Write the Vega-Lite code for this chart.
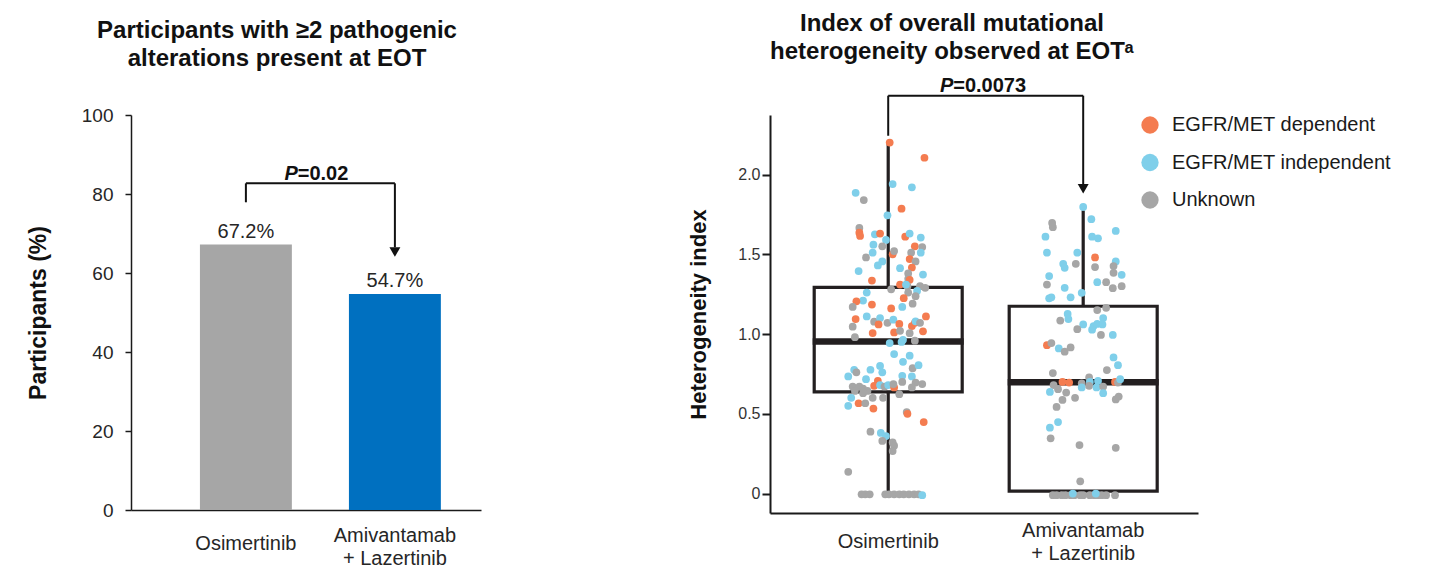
{
  "$schema": "https://vega.github.io/schema/vega-lite/v6.json",
  "background": "white",
  "padding": {"left": 27, "top": 11, "right": 5, "bottom": 5},
  "bounds": "flush",
  "spacing": 289,
  "resolve": {"scale": {"color": "independent", "xOffset": "independent"}, "legend": {"color": "independent"}},
  "config": {
    "font": "Liberation Sans",
    "view": {"stroke": null},
    "axis": {"labelFont": "Liberation Sans", "titleFont": "Liberation Sans", "domainColor": "#1a1a1a", "tickColor": "#1a1a1a", "labelColor": "#262626", "titleColor": "#111111", "grid": false},
    "legend": {"labelFont": "Liberation Sans"},
    "text": {"font": "Liberation Sans"},
    "title": {"font": "Liberation Sans", "fontSize": 24, "fontWeight": "bold", "color": "#111111", "lineHeight": 28.5}
  },
  "datasets": {
    "bars": [
      {"arm": "Osimertinib", "pct": 67.2, "label": "67.2%"},
      {"arm": "Amivantamab + Lazertinib", "pct": 54.7, "label": "54.7%"}
    ],
    "lvert": [
      {"arm": "Osimertinib", "y": 77.9, "y2": 82.7},
      {"arm": "Amivantamab + Lazertinib", "y": 66.5, "y2": 82.7}
    ],
    "lhor": [
      {"arm": "Osimertinib", "arm2": "Amivantamab + Lazertinib", "y": 82.7}
    ],
    "larrow": [
      {"arm": "Amivantamab + Lazertinib", "y": 65.3}
    ],
    "lp": [
      {"arm": "Osimertinib", "y": 83.47}
    ],
    "stats": [
      {"arm": "Osimertinib", "lo": 0, "q1": 0.637, "med": 0.953, "q3": 1.293, "hi": 2.21},
      {"arm": "Amivantamab + Lazertinib", "lo": 0.015, "q1": 0.015, "med": 0.697, "q3": 1.174, "hi": 1.775}
    ],
    "rvert": [
      {"arm": "Osimertinib", "y": 2.243, "y2": 2.494},
      {"arm": "Amivantamab + Lazertinib", "y": 1.93, "y2": 2.494}
    ],
    "rhor": [
      {"arm": "Osimertinib", "arm2": "Amivantamab + Lazertinib", "y": 2.494}
    ],
    "rarrow": [
      {"arm": "Amivantamab + Lazertinib", "y": 1.91}
    ],
    "rp": [
      {"arm": "Osimertinib", "y": 2.515}
    ],
    "points": [
      {"arm": "Osimertinib", "type": "EGFR/MET dependent", "jit": 0.02, "h": 2.2},
      {"arm": "Osimertinib", "type": "EGFR/MET dependent", "jit": 0.49, "h": 2.105},
      {"arm": "Osimertinib", "type": "EGFR/MET independent", "jit": -0.44, "h": 1.885},
      {"arm": "Osimertinib", "type": "Unknown", "jit": -0.33, "h": 1.84},
      {"arm": "Osimertinib", "type": "EGFR/MET independent", "jit": 0.06, "h": 1.94},
      {"arm": "Osimertinib", "type": "EGFR/MET independent", "jit": 0.32, "h": 1.92},
      {"arm": "Osimertinib", "type": "EGFR/MET dependent", "jit": 0.18, "h": 1.786},
      {"arm": "Osimertinib", "type": "EGFR/MET independent", "jit": -0.01, "h": 1.744},
      {"arm": "Osimertinib", "type": "Unknown", "jit": -0.39, "h": 1.665},
      {"arm": "Osimertinib", "type": "EGFR/MET dependent", "jit": -0.39, "h": 1.635},
      {"arm": "Osimertinib", "type": "EGFR/MET dependent", "jit": -0.38, "h": 1.615},
      {"arm": "Osimertinib", "type": "EGFR/MET independent", "jit": -0.18, "h": 1.625},
      {"arm": "Osimertinib", "type": "EGFR/MET dependent", "jit": -0.11, "h": 1.63},
      {"arm": "Osimertinib", "type": "EGFR/MET independent", "jit": -0.03, "h": 1.59},
      {"arm": "Osimertinib", "type": "EGFR/MET dependent", "jit": 0.23, "h": 1.61},
      {"arm": "Osimertinib", "type": "EGFR/MET independent", "jit": 0.29, "h": 1.63},
      {"arm": "Osimertinib", "type": "EGFR/MET independent", "jit": 0.44, "h": 1.605},
      {"arm": "Osimertinib", "type": "EGFR/MET independent", "jit": -0.2, "h": 1.56},
      {"arm": "Osimertinib", "type": "Unknown", "jit": -0.08, "h": 1.55},
      {"arm": "Osimertinib", "type": "EGFR/MET dependent", "jit": 0.36, "h": 1.55},
      {"arm": "Osimertinib", "type": "Unknown", "jit": 0.46, "h": 1.545},
      {"arm": "Osimertinib", "type": "EGFR/MET independent", "jit": -0.21, "h": 1.51},
      {"arm": "Osimertinib", "type": "Unknown", "jit": -0.3, "h": 1.48},
      {"arm": "Osimertinib", "type": "EGFR/MET dependent", "jit": 0.06, "h": 1.5},
      {"arm": "Osimertinib", "type": "Unknown", "jit": 0.08, "h": 1.52},
      {"arm": "Osimertinib", "type": "Unknown", "jit": 0.31, "h": 1.51},
      {"arm": "Osimertinib", "type": "EGFR/MET independent", "jit": 0.44, "h": 1.51},
      {"arm": "Osimertinib", "type": "EGFR/MET dependent", "jit": 0.29, "h": 1.47},
      {"arm": "Osimertinib", "type": "Unknown", "jit": 0.37, "h": 1.455},
      {"arm": "Osimertinib", "type": "EGFR/MET independent", "jit": -0.08, "h": 1.455},
      {"arm": "Osimertinib", "type": "EGFR/MET independent", "jit": -0.14, "h": 1.43},
      {"arm": "Osimertinib", "type": "EGFR/MET dependent", "jit": 0.32, "h": 1.417},
      {"arm": "Osimertinib", "type": "EGFR/MET independent", "jit": 0.16, "h": 1.413},
      {"arm": "Osimertinib", "type": "Unknown", "jit": 0.27, "h": 1.38},
      {"arm": "Osimertinib", "type": "EGFR/MET independent", "jit": -0.4, "h": 1.395},
      {"arm": "Osimertinib", "type": "EGFR/MET independent", "jit": 0.47, "h": 1.373},
      {"arm": "Osimertinib", "type": "Unknown", "jit": 0.27, "h": 1.346},
      {"arm": "Osimertinib", "type": "EGFR/MET dependent", "jit": 0.29, "h": 1.34},
      {"arm": "Osimertinib", "type": "EGFR/MET dependent", "jit": -0.22, "h": 1.335},
      {"arm": "Osimertinib", "type": "EGFR/MET dependent", "jit": 0.16, "h": 1.31},
      {"arm": "Osimertinib", "type": "Unknown", "jit": 0.04, "h": 1.28},
      {"arm": "Osimertinib", "type": "Unknown", "jit": 0.26, "h": 1.3},
      {"arm": "Osimertinib", "type": "Unknown", "jit": 0.43, "h": 1.3},
      {"arm": "Osimertinib", "type": "Unknown", "jit": 0.5, "h": 1.29},
      {"arm": "Osimertinib", "type": "EGFR/MET independent", "jit": 0.39, "h": 1.27},
      {"arm": "Osimertinib", "type": "EGFR/MET independent", "jit": 0.24, "h": 1.31},
      {"arm": "Osimertinib", "type": "EGFR/MET independent", "jit": -0.29, "h": 1.26},
      {"arm": "Osimertinib", "type": "Unknown", "jit": 0.27, "h": 1.26},
      {"arm": "Osimertinib", "type": "EGFR/MET dependent", "jit": 0.21, "h": 1.225},
      {"arm": "Osimertinib", "type": "Unknown", "jit": 0.37, "h": 1.237},
      {"arm": "Osimertinib", "type": "EGFR/MET independent", "jit": -0.34, "h": 1.21},
      {"arm": "Osimertinib", "type": "EGFR/MET dependent", "jit": -0.43, "h": 1.205},
      {"arm": "Osimertinib", "type": "EGFR/MET dependent", "jit": -0.22, "h": 1.185},
      {"arm": "Osimertinib", "type": "Unknown", "jit": -0.48, "h": 1.17},
      {"arm": "Osimertinib", "type": "Unknown", "jit": 0.33, "h": 1.19},
      {"arm": "Osimertinib", "type": "EGFR/MET independent", "jit": 0.19, "h": 1.17},
      {"arm": "Osimertinib", "type": "EGFR/MET dependent", "jit": 0.04, "h": 1.16},
      {"arm": "Osimertinib", "type": "EGFR/MET dependent", "jit": -0.44, "h": 1.094},
      {"arm": "Osimertinib", "type": "EGFR/MET independent", "jit": -0.29, "h": 1.11},
      {"arm": "Osimertinib", "type": "Unknown", "jit": -0.19, "h": 1.077},
      {"arm": "Osimertinib", "type": "EGFR/MET independent", "jit": -0.11, "h": 1.1},
      {"arm": "Osimertinib", "type": "EGFR/MET dependent", "jit": -0.13, "h": 1.06},
      {"arm": "Osimertinib", "type": "Unknown", "jit": -0.01, "h": 1.07},
      {"arm": "Osimertinib", "type": "EGFR/MET independent", "jit": 0.07, "h": 1.09},
      {"arm": "Osimertinib", "type": "EGFR/MET dependent", "jit": 0.15, "h": 1.063},
      {"arm": "Osimertinib", "type": "EGFR/MET dependent", "jit": 0.32, "h": 1.05},
      {"arm": "Osimertinib", "type": "EGFR/MET dependent", "jit": 0.36, "h": 1.07},
      {"arm": "Osimertinib", "type": "EGFR/MET independent", "jit": 0.37, "h": 1.08},
      {"arm": "Osimertinib", "type": "Unknown", "jit": 0.43, "h": 1.07},
      {"arm": "Osimertinib", "type": "EGFR/MET dependent", "jit": 0.51, "h": 1.11},
      {"arm": "Osimertinib", "type": "Unknown", "jit": -0.48, "h": 1.046},
      {"arm": "Osimertinib", "type": "EGFR/MET dependent", "jit": -0.21, "h": 1.006},
      {"arm": "Osimertinib", "type": "EGFR/MET dependent", "jit": 0.08, "h": 1.01},
      {"arm": "Osimertinib", "type": "Unknown", "jit": 0.16, "h": 1.02},
      {"arm": "Osimertinib", "type": "Unknown", "jit": 0.29, "h": 1.005},
      {"arm": "Osimertinib", "type": "EGFR/MET dependent", "jit": 0.47, "h": 1.017},
      {"arm": "Osimertinib", "type": "Unknown", "jit": -0.45, "h": 0.98},
      {"arm": "Osimertinib", "type": "EGFR/MET independent", "jit": 0.02, "h": 0.943},
      {"arm": "Osimertinib", "type": "EGFR/MET independent", "jit": 0.18, "h": 0.95},
      {"arm": "Osimertinib", "type": "EGFR/MET independent", "jit": 0.2, "h": 0.964},
      {"arm": "Osimertinib", "type": "Unknown", "jit": 0.36, "h": 0.958},
      {"arm": "Osimertinib", "type": "EGFR/MET independent", "jit": 0.08, "h": 0.874},
      {"arm": "Osimertinib", "type": "EGFR/MET independent", "jit": 0.2, "h": 0.826},
      {"arm": "Osimertinib", "type": "EGFR/MET independent", "jit": 0.29, "h": 0.864},
      {"arm": "Osimertinib", "type": "Unknown", "jit": 0.33, "h": 0.786},
      {"arm": "Osimertinib", "type": "EGFR/MET independent", "jit": 0.41, "h": 0.805},
      {"arm": "Osimertinib", "type": "EGFR/MET independent", "jit": -0.46, "h": 0.776},
      {"arm": "Osimertinib", "type": "Unknown", "jit": -0.43, "h": 0.76},
      {"arm": "Osimertinib", "type": "EGFR/MET independent", "jit": -0.24, "h": 0.776},
      {"arm": "Osimertinib", "type": "EGFR/MET independent", "jit": -0.11, "h": 0.8},
      {"arm": "Osimertinib", "type": "EGFR/MET independent", "jit": -0.08, "h": 0.76},
      {"arm": "Osimertinib", "type": "EGFR/MET independent", "jit": -0.54, "h": 0.734},
      {"arm": "Osimertinib", "type": "EGFR/MET independent", "jit": -0.3, "h": 0.717},
      {"arm": "Osimertinib", "type": "EGFR/MET dependent", "jit": -0.14, "h": 0.706},
      {"arm": "Osimertinib", "type": "EGFR/MET independent", "jit": 0.19, "h": 0.738},
      {"arm": "Osimertinib", "type": "EGFR/MET independent", "jit": 0.32, "h": 0.734},
      {"arm": "Osimertinib", "type": "Unknown", "jit": 0.19, "h": 0.7},
      {"arm": "Osimertinib", "type": "Unknown", "jit": 0.37, "h": 0.696},
      {"arm": "Osimertinib", "type": "Unknown", "jit": 0.46, "h": 0.686},
      {"arm": "Osimertinib", "type": "Unknown", "jit": -0.48, "h": 0.671},
      {"arm": "Osimertinib", "type": "Unknown", "jit": -0.39, "h": 0.671},
      {"arm": "Osimertinib", "type": "Unknown", "jit": -0.34, "h": 0.658},
      {"arm": "Osimertinib", "type": "EGFR/MET dependent", "jit": -0.19, "h": 0.675},
      {"arm": "Osimertinib", "type": "EGFR/MET independent", "jit": -0.11, "h": 0.68},
      {"arm": "Osimertinib", "type": "Unknown", "jit": -0.05, "h": 0.671},
      {"arm": "Osimertinib", "type": "EGFR/MET independent", "jit": 0.0, "h": 0.68},
      {"arm": "Osimertinib", "type": "EGFR/MET dependent", "jit": 0.08, "h": 0.665},
      {"arm": "Osimertinib", "type": "Unknown", "jit": 0.07, "h": 0.686},
      {"arm": "Osimertinib", "type": "Unknown", "jit": 0.32, "h": 0.665},
      {"arm": "Osimertinib", "type": "Unknown", "jit": -0.45, "h": 0.643},
      {"arm": "Osimertinib", "type": "Unknown", "jit": -0.28, "h": 0.643},
      {"arm": "Osimertinib", "type": "Unknown", "jit": -0.21, "h": 0.6},
      {"arm": "Osimertinib", "type": "Unknown", "jit": -0.07, "h": 0.6},
      {"arm": "Osimertinib", "type": "Unknown", "jit": 0.15, "h": 0.623},
      {"arm": "Osimertinib", "type": "Unknown", "jit": -0.34, "h": 0.629},
      {"arm": "Osimertinib", "type": "EGFR/MET independent", "jit": -0.5, "h": 0.6},
      {"arm": "Osimertinib", "type": "EGFR/MET independent", "jit": -0.54, "h": 0.55},
      {"arm": "Osimertinib", "type": "EGFR/MET dependent", "jit": -0.4, "h": 0.566},
      {"arm": "Osimertinib", "type": "Unknown", "jit": -0.31, "h": 0.566},
      {"arm": "Osimertinib", "type": "EGFR/MET dependent", "jit": -0.2, "h": 0.533},
      {"arm": "Osimertinib", "type": "Unknown", "jit": 0.25, "h": 0.511},
      {"arm": "Osimertinib", "type": "EGFR/MET dependent", "jit": 0.26, "h": 0.5},
      {"arm": "Osimertinib", "type": "EGFR/MET dependent", "jit": 0.48, "h": 0.448},
      {"arm": "Osimertinib", "type": "Unknown", "jit": -0.24, "h": 0.388},
      {"arm": "Osimertinib", "type": "EGFR/MET independent", "jit": -0.1, "h": 0.38},
      {"arm": "Osimertinib", "type": "EGFR/MET independent", "jit": -0.03, "h": 0.36},
      {"arm": "Osimertinib", "type": "Unknown", "jit": -0.08, "h": 0.33},
      {"arm": "Osimertinib", "type": "Unknown", "jit": 0.06, "h": 0.32},
      {"arm": "Osimertinib", "type": "Unknown", "jit": 0.08, "h": 0.3},
      {"arm": "Osimertinib", "type": "Unknown", "jit": 0.06, "h": 0.266},
      {"arm": "Osimertinib", "type": "Unknown", "jit": -0.54, "h": 0.136},
      {"arm": "Osimertinib", "type": "Unknown", "jit": -0.36, "h": -0.005},
      {"arm": "Osimertinib", "type": "Unknown", "jit": -0.31, "h": -0.005},
      {"arm": "Osimertinib", "type": "Unknown", "jit": -0.25, "h": -0.005},
      {"arm": "Osimertinib", "type": "Unknown", "jit": -0.04, "h": -0.005},
      {"arm": "Osimertinib", "type": "Unknown", "jit": 0.01, "h": -0.005},
      {"arm": "Osimertinib", "type": "Unknown", "jit": 0.08, "h": -0.005},
      {"arm": "Osimertinib", "type": "Unknown", "jit": 0.15, "h": -0.005},
      {"arm": "Osimertinib", "type": "Unknown", "jit": 0.21, "h": -0.005},
      {"arm": "Osimertinib", "type": "Unknown", "jit": 0.28, "h": -0.005},
      {"arm": "Osimertinib", "type": "Unknown", "jit": 0.35, "h": -0.005},
      {"arm": "Osimertinib", "type": "Unknown", "jit": 0.41, "h": -0.005},
      {"arm": "Osimertinib", "type": "EGFR/MET independent", "jit": 0.46, "h": -0.01},
      {"arm": "Amivantamab + Lazertinib", "type": "EGFR/MET independent", "jit": 0.0, "h": 1.797},
      {"arm": "Amivantamab + Lazertinib", "type": "Unknown", "jit": -0.42, "h": 1.696},
      {"arm": "Amivantamab + Lazertinib", "type": "Unknown", "jit": -0.41, "h": 1.67},
      {"arm": "Amivantamab + Lazertinib", "type": "EGFR/MET independent", "jit": 0.11, "h": 1.72},
      {"arm": "Amivantamab + Lazertinib", "type": "EGFR/MET independent", "jit": 0.44, "h": 1.646},
      {"arm": "Amivantamab + Lazertinib", "type": "EGFR/MET independent", "jit": -0.51, "h": 1.61},
      {"arm": "Amivantamab + Lazertinib", "type": "EGFR/MET independent", "jit": 0.12, "h": 1.61},
      {"arm": "Amivantamab + Lazertinib", "type": "EGFR/MET independent", "jit": 0.2, "h": 1.6},
      {"arm": "Amivantamab + Lazertinib", "type": "EGFR/MET independent", "jit": -0.49, "h": 1.51},
      {"arm": "Amivantamab + Lazertinib", "type": "EGFR/MET independent", "jit": -0.08, "h": 1.51},
      {"arm": "Amivantamab + Lazertinib", "type": "EGFR/MET dependent", "jit": 0.16, "h": 1.48},
      {"arm": "Amivantamab + Lazertinib", "type": "EGFR/MET independent", "jit": 0.44, "h": 1.455},
      {"arm": "Amivantamab + Lazertinib", "type": "EGFR/MET independent", "jit": -0.27, "h": 1.44},
      {"arm": "Amivantamab + Lazertinib", "type": "Unknown", "jit": -0.1, "h": 1.44},
      {"arm": "Amivantamab + Lazertinib", "type": "EGFR/MET independent", "jit": -0.25, "h": 1.415},
      {"arm": "Amivantamab + Lazertinib", "type": "Unknown", "jit": 0.16, "h": 1.42},
      {"arm": "Amivantamab + Lazertinib", "type": "Unknown", "jit": 0.41, "h": 1.426},
      {"arm": "Amivantamab + Lazertinib", "type": "Unknown", "jit": 0.41, "h": 1.384},
      {"arm": "Amivantamab + Lazertinib", "type": "EGFR/MET independent", "jit": 0.52, "h": 1.371},
      {"arm": "Amivantamab + Lazertinib", "type": "EGFR/MET independent", "jit": -0.46, "h": 1.363},
      {"arm": "Amivantamab + Lazertinib", "type": "Unknown", "jit": -0.49, "h": 1.31},
      {"arm": "Amivantamab + Lazertinib", "type": "EGFR/MET independent", "jit": -0.25, "h": 1.29},
      {"arm": "Amivantamab + Lazertinib", "type": "EGFR/MET independent", "jit": 0.19, "h": 1.325},
      {"arm": "Amivantamab + Lazertinib", "type": "Unknown", "jit": 0.31, "h": 1.325},
      {"arm": "Amivantamab + Lazertinib", "type": "Unknown", "jit": 0.4, "h": 1.287},
      {"arm": "Amivantamab + Lazertinib", "type": "Unknown", "jit": 0.52, "h": 1.3},
      {"arm": "Amivantamab + Lazertinib", "type": "EGFR/MET independent", "jit": -0.02, "h": 1.258},
      {"arm": "Amivantamab + Lazertinib", "type": "EGFR/MET independent", "jit": -0.46, "h": 1.224},
      {"arm": "Amivantamab + Lazertinib", "type": "EGFR/MET independent", "jit": -0.43, "h": 1.23},
      {"arm": "Amivantamab + Lazertinib", "type": "EGFR/MET independent", "jit": -0.17, "h": 1.23},
      {"arm": "Amivantamab + Lazertinib", "type": "Unknown", "jit": 0.19, "h": 1.15},
      {"arm": "Amivantamab + Lazertinib", "type": "Unknown", "jit": 0.31, "h": 1.164},
      {"arm": "Amivantamab + Lazertinib", "type": "EGFR/MET independent", "jit": -0.21, "h": 1.126},
      {"arm": "Amivantamab + Lazertinib", "type": "EGFR/MET independent", "jit": -0.2, "h": 1.094},
      {"arm": "Amivantamab + Lazertinib", "type": "Unknown", "jit": -0.31, "h": 1.084},
      {"arm": "Amivantamab + Lazertinib", "type": "EGFR/MET independent", "jit": 0.27, "h": 1.1},
      {"arm": "Amivantamab + Lazertinib", "type": "EGFR/MET independent", "jit": 0.0, "h": 1.06},
      {"arm": "Amivantamab + Lazertinib", "type": "EGFR/MET independent", "jit": 0.14, "h": 1.05},
      {"arm": "Amivantamab + Lazertinib", "type": "EGFR/MET independent", "jit": 0.19, "h": 1.063},
      {"arm": "Amivantamab + Lazertinib", "type": "EGFR/MET independent", "jit": 0.26, "h": 1.06},
      {"arm": "Amivantamab + Lazertinib", "type": "Unknown", "jit": -0.08, "h": 1.03},
      {"arm": "Amivantamab + Lazertinib", "type": "EGFR/MET independent", "jit": 0.12, "h": 1.027},
      {"arm": "Amivantamab + Lazertinib", "type": "Unknown", "jit": 0.24, "h": 0.994},
      {"arm": "Amivantamab + Lazertinib", "type": "EGFR/MET independent", "jit": 0.4, "h": 0.994},
      {"arm": "Amivantamab + Lazertinib", "type": "EGFR/MET dependent", "jit": -0.49, "h": 0.93},
      {"arm": "Amivantamab + Lazertinib", "type": "Unknown", "jit": -0.43, "h": 0.943},
      {"arm": "Amivantamab + Lazertinib", "type": "EGFR/MET independent", "jit": -0.33, "h": 0.91},
      {"arm": "Amivantamab + Lazertinib", "type": "Unknown", "jit": -0.17, "h": 0.916},
      {"arm": "Amivantamab + Lazertinib", "type": "Unknown", "jit": -0.25, "h": 0.889},
      {"arm": "Amivantamab + Lazertinib", "type": "EGFR/MET independent", "jit": 0.41, "h": 0.853},
      {"arm": "Amivantamab + Lazertinib", "type": "EGFR/MET independent", "jit": 0.47, "h": 0.805},
      {"arm": "Amivantamab + Lazertinib", "type": "Unknown", "jit": 0.32, "h": 0.774},
      {"arm": "Amivantamab + Lazertinib", "type": "Unknown", "jit": -0.41, "h": 0.755},
      {"arm": "Amivantamab + Lazertinib", "type": "Unknown", "jit": 0.08, "h": 0.728},
      {"arm": "Amivantamab + Lazertinib", "type": "EGFR/MET dependent", "jit": -0.28, "h": 0.7},
      {"arm": "Amivantamab + Lazertinib", "type": "EGFR/MET dependent", "jit": -0.19, "h": 0.696},
      {"arm": "Amivantamab + Lazertinib", "type": "Unknown", "jit": -0.02, "h": 0.69},
      {"arm": "Amivantamab + Lazertinib", "type": "EGFR/MET independent", "jit": 0.09, "h": 0.7},
      {"arm": "Amivantamab + Lazertinib", "type": "EGFR/MET independent", "jit": 0.2, "h": 0.706},
      {"arm": "Amivantamab + Lazertinib", "type": "EGFR/MET dependent", "jit": 0.43, "h": 0.7},
      {"arm": "Amivantamab + Lazertinib", "type": "Unknown", "jit": 0.47, "h": 0.696},
      {"arm": "Amivantamab + Lazertinib", "type": "EGFR/MET independent", "jit": 0.5, "h": 0.717},
      {"arm": "Amivantamab + Lazertinib", "type": "Unknown", "jit": -0.4, "h": 0.68},
      {"arm": "Amivantamab + Lazertinib", "type": "EGFR/MET independent", "jit": -0.45, "h": 0.637},
      {"arm": "Amivantamab + Lazertinib", "type": "Unknown", "jit": -0.34, "h": 0.654},
      {"arm": "Amivantamab + Lazertinib", "type": "Unknown", "jit": -0.23, "h": 0.633},
      {"arm": "Amivantamab + Lazertinib", "type": "EGFR/MET independent", "jit": -0.02, "h": 0.665},
      {"arm": "Amivantamab + Lazertinib", "type": "Unknown", "jit": 0.08, "h": 0.675},
      {"arm": "Amivantamab + Lazertinib", "type": "EGFR/MET independent", "jit": 0.18, "h": 0.665},
      {"arm": "Amivantamab + Lazertinib", "type": "Unknown", "jit": 0.27, "h": 0.671},
      {"arm": "Amivantamab + Lazertinib", "type": "EGFR/MET independent", "jit": 0.27, "h": 0.629},
      {"arm": "Amivantamab + Lazertinib", "type": "Unknown", "jit": -0.28, "h": 0.587},
      {"arm": "Amivantamab + Lazertinib", "type": "Unknown", "jit": -0.11, "h": 0.6},
      {"arm": "Amivantamab + Lazertinib", "type": "Unknown", "jit": 0.44, "h": 0.59},
      {"arm": "Amivantamab + Lazertinib", "type": "Unknown", "jit": 0.48, "h": 0.608},
      {"arm": "Amivantamab + Lazertinib", "type": "Unknown", "jit": -0.36, "h": 0.543},
      {"arm": "Amivantamab + Lazertinib", "type": "EGFR/MET independent", "jit": -0.34, "h": 0.448},
      {"arm": "Amivantamab + Lazertinib", "type": "EGFR/MET independent", "jit": -0.45, "h": 0.413},
      {"arm": "Amivantamab + Lazertinib", "type": "Unknown", "jit": -0.44, "h": 0.346},
      {"arm": "Amivantamab + Lazertinib", "type": "Unknown", "jit": -0.05, "h": 0.304},
      {"arm": "Amivantamab + Lazertinib", "type": "Unknown", "jit": 0.44, "h": 0.287},
      {"arm": "Amivantamab + Lazertinib", "type": "Unknown", "jit": -0.04, "h": 0.077},
      {"arm": "Amivantamab + Lazertinib", "type": "Unknown", "jit": -0.41, "h": -0.01},
      {"arm": "Amivantamab + Lazertinib", "type": "Unknown", "jit": -0.36, "h": -0.01},
      {"arm": "Amivantamab + Lazertinib", "type": "Unknown", "jit": -0.29, "h": -0.01},
      {"arm": "Amivantamab + Lazertinib", "type": "Unknown", "jit": -0.24, "h": -0.01},
      {"arm": "Amivantamab + Lazertinib", "type": "Unknown", "jit": -0.17, "h": -0.01},
      {"arm": "Amivantamab + Lazertinib", "type": "Unknown", "jit": -0.12, "h": -0.01},
      {"arm": "Amivantamab + Lazertinib", "type": "Unknown", "jit": -0.04, "h": -0.01},
      {"arm": "Amivantamab + Lazertinib", "type": "Unknown", "jit": 0.0, "h": -0.01},
      {"arm": "Amivantamab + Lazertinib", "type": "Unknown", "jit": 0.09, "h": -0.01},
      {"arm": "Amivantamab + Lazertinib", "type": "Unknown", "jit": 0.15, "h": -0.01},
      {"arm": "Amivantamab + Lazertinib", "type": "Unknown", "jit": 0.2, "h": -0.01},
      {"arm": "Amivantamab + Lazertinib", "type": "Unknown", "jit": 0.25, "h": -0.01},
      {"arm": "Amivantamab + Lazertinib", "type": "Unknown", "jit": 0.31, "h": -0.01},
      {"arm": "Amivantamab + Lazertinib", "type": "Unknown", "jit": 0.43, "h": -0.01},
      {"arm": "Amivantamab + Lazertinib", "type": "EGFR/MET independent", "jit": -0.14, "h": 0.0},
      {"arm": "Amivantamab + Lazertinib", "type": "EGFR/MET independent", "jit": 0.17, "h": 0.0}
    ]
  },
  "hconcat": [
    {
      "width": 350,
      "height": 395,
      "title": {"text": ["Participants with ≥2 pathogenic", "alterations present at EOT"], "anchor": "middle", "frame": "group", "dx": -29, "offset": 35},
      "encoding": {
        "x": {
          "field": "arm", "type": "nominal",
          "scale": {"type": "band", "domain": ["Osimertinib", "Amivantamab + Lazertinib"], "paddingInner": 0.383, "paddingOuter": 0.366, "align": 0.632},
          "axis": {"title": null, "labelAngle": 0, "ticks": false, "tickSize": 0, "domainWidth": 1.5, "labelBaseline": "top", "labelFontSize": 20, "labelLineHeight": 23, "labelColor": "#262626",
            "labelPadding": {"condition": {"test": "datum.value == 'Osimertinib'", "value": 23}, "value": 15},
            "labelExpr": "datum.label == 'Amivantamab + Lazertinib' ? ['Amivantamab', '+ Lazertinib'] : datum.label"}
        }
      },
      "layer": [
        {
          "data": {"name": "bars"},
          "mark": {"type": "bar", "width": {"band": 1}},
          "encoding": {
            "y": {"field": "pct", "type": "quantitative", "title": "Participants (%)",
              "scale": {"domain": [0, 100], "nice": false},
              "axis": {"values": [0, 20, 40, 60, 80, 100], "tickSize": 6, "tickWidth": 1.5, "domainWidth": 1.5, "labelFontSize": 19, "labelPadding": 12, "titleFontSize": 23, "titleFontWeight": "bold", "titlePadding": 31}},
            "color": {"field": "arm", "type": "nominal", "scale": {"domain": ["Osimertinib", "Amivantamab + Lazertinib"], "range": ["#A6A6A6", "#0070C0"]}, "legend": null}
          }
        },
        {
          "data": {"name": "bars"},
          "mark": {"type": "text", "baseline": "alphabetic", "dy": -7, "fontSize": 20, "color": "#262626"},
          "encoding": {
            "y": {"field": "pct", "type": "quantitative", "title": "Participants (%)"},
            "text": {"field": "label"}
          }
        },
        {
          "data": {"name": "lvert"},
          "mark": {"type": "rule", "color": "#111111", "strokeWidth": 2},
          "encoding": {
            "y": {"field": "y", "type": "quantitative", "title": "Participants (%)"},
            "y2": {"field": "y2"}
          }
        },
        {
          "data": {"name": "lhor"},
          "mark": {"type": "rule", "color": "#111111", "strokeWidth": 2},
          "encoding": {
            "x2": {"field": "arm2"},
            "y": {"field": "y", "type": "quantitative", "title": "Participants (%)"}
          }
        },
        {
          "data": {"name": "larrow"},
          "mark": {"type": "point", "shape": "triangle-down", "filled": true, "size": 120, "color": "#111111", "opacity": 1},
          "encoding": {
            "y": {"field": "y", "type": "quantitative", "title": "Participants (%)"}
          }
        },
        {
          "data": {"name": "lp"},
          "mark": {"type": "text", "text": "P", "align": "left", "baseline": "alphabetic", "dx": 38.5, "fontSize": 20, "fontWeight": "bold", "fontStyle": "italic", "color": "#111111"},
          "encoding": {
            "y": {"field": "y", "type": "quantitative", "title": "Participants (%)"}
          }
        },
        {
          "data": {"name": "lp"},
          "mark": {"type": "text", "text": "=0.02", "align": "left", "baseline": "alphabetic", "dx": 51.8, "fontSize": 20, "fontWeight": "bold", "color": "#111111"},
          "encoding": {
            "y": {"field": "y", "type": "quantitative", "title": "Participants (%)"}
          }
        }
      ]
    },
    {
      "width": 428,
      "height": 398,
      "title": {"text": ["Index of overall mutational", "heterogeneity observed at EOTᵃ"], "anchor": "middle", "frame": "group", "dx": -32, "offset": 12},
      "resolve": {"scale": {"xOffset": "independent"}},
      "encoding": {
        "x": {
          "field": "arm", "type": "nominal",
          "scale": {"type": "band", "domain": ["Osimertinib", "Amivantamab + Lazertinib"], "paddingInner": 0.241, "paddingOuter": 0.218, "align": 0.52},
          "axis": {"title": null, "labelAngle": 0, "ticks": false, "tickSize": 0, "domainWidth": 2, "labelBaseline": "top", "labelFontSize": 20, "labelLineHeight": 23, "labelColor": "#262626",
            "labelPadding": {"condition": {"test": "datum.value == 'Osimertinib'", "value": 18}, "value": 7},
            "labelExpr": "datum.label == 'Amivantamab + Lazertinib' ? ['Amivantamab', '+ Lazertinib'] : datum.label"}
        }
      },
      "layer": [
        {
          "data": {"name": "stats"},
          "mark": {"type": "bar", "width": {"band": 1}, "fill": "white", "stroke": "#231f20", "strokeWidth": 3.2},
          "encoding": {
            "y": {"field": "q1", "type": "quantitative", "title": "Heterogeneity index",
              "scale": {"domain": [-0.122, 2.373], "nice": false, "zero": false},
              "axis": {"values": [0, 0.5, 1, 1.5, 2], "labelExpr": "datum.value == 0 ? '0' : format(datum.value, '.1f')", "tickSize": 8, "tickWidth": 2, "domainWidth": 2, "labelFontSize": 16, "labelPadding": 2, "labelColor": "#333333", "titleFontSize": 22, "titleFontWeight": "bold", "titlePadding": 27}},
            "y2": {"field": "q3"}
          }
        },
        {
          "data": {"name": "stats"},
          "mark": {"type": "rule", "color": "#231f20", "strokeWidth": 3.2},
          "encoding": {
            "y": {"field": "q3", "type": "quantitative", "title": "Heterogeneity index"},
            "y2": {"field": "hi"}
          }
        },
        {
          "data": {"name": "stats"},
          "mark": {"type": "rule", "color": "#231f20", "strokeWidth": 3.2},
          "encoding": {
            "y": {"field": "lo", "type": "quantitative", "title": "Heterogeneity index"},
            "y2": {"field": "q1"}
          }
        },
        {
          "data": {"name": "stats"},
          "mark": {"type": "tick", "color": "#231f20", "thickness": 6.5, "size": 151, "opacity": 1},
          "encoding": {
            "y": {"field": "med", "type": "quantitative", "title": "Heterogeneity index"}
          }
        },
        {
          "data": {"name": "points"},
          "mark": {"type": "circle", "size": 60, "opacity": 1},
          "encoding": {
            "y": {"field": "h", "type": "quantitative", "title": "Heterogeneity index"},
            "xOffset": {"field": "jit", "type": "quantitative", "scale": {"domain": [-1, 1], "range": [0, 148]}},
            "color": {"field": "type", "type": "nominal",
              "scale": {"domain": ["EGFR/MET dependent", "EGFR/MET independent", "Unknown"], "range": ["#F47C50", "#7FCFEA", "#A6A6A6"]},
              "legend": {"orient": "none", "legendX": 370, "legendY": 0, "title": null, "symbolType": "circle", "symbolSize": 300, "symbolStrokeWidth": 0, "labelFontSize": 20, "labelColor": "#1a1a1a", "labelLimit": 400, "rowPadding": 17.5, "labelOffset": 12, "padding": 0}}
          }
        },
        {
          "data": {"name": "rvert"},
          "mark": {"type": "rule", "color": "#111111", "strokeWidth": 2},
          "encoding": {
            "y": {"field": "y", "type": "quantitative", "title": "Heterogeneity index"},
            "y2": {"field": "y2"}
          }
        },
        {
          "data": {"name": "rhor"},
          "mark": {"type": "rule", "color": "#111111", "strokeWidth": 2},
          "encoding": {
            "x2": {"field": "arm2"},
            "y": {"field": "y", "type": "quantitative", "title": "Heterogeneity index"}
          }
        },
        {
          "data": {"name": "rarrow"},
          "mark": {"type": "point", "shape": "triangle-down", "filled": true, "size": 120, "color": "#111111", "opacity": 1},
          "encoding": {
            "y": {"field": "y", "type": "quantitative", "title": "Heterogeneity index"}
          }
        },
        {
          "data": {"name": "rp"},
          "mark": {"type": "text", "text": "P", "align": "left", "baseline": "alphabetic", "dx": 51.7, "fontSize": 20, "fontWeight": "bold", "fontStyle": "italic", "color": "#111111"},
          "encoding": {
            "y": {"field": "y", "type": "quantitative", "title": "Heterogeneity index"}
          }
        },
        {
          "data": {"name": "rp"},
          "mark": {"type": "text", "text": "=0.0073", "align": "left", "baseline": "alphabetic", "dx": 65, "fontSize": 20, "fontWeight": "bold", "color": "#111111"},
          "encoding": {
            "y": {"field": "y", "type": "quantitative", "title": "Heterogeneity index"}
          }
        }
      ]
    }
  ]
}
